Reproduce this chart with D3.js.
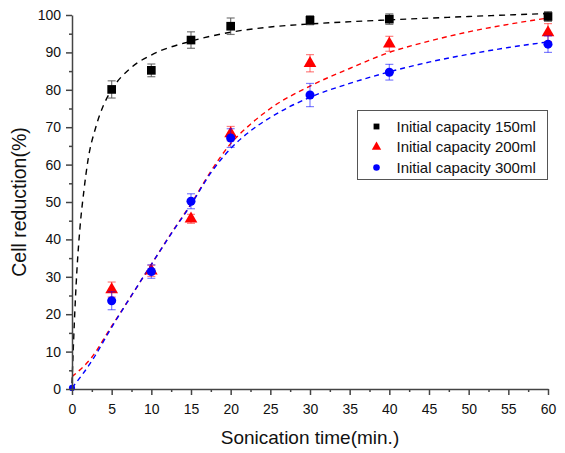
<!DOCTYPE html>
<html>
<head>
<meta charset="utf-8">
<script src="https://cdn.jsdelivr.net/npm/d3@7"></script>
<style>
  body { margin: 0; background: #fff; }
  svg text { font-family: Arial, "Liberation Sans", sans-serif; fill: #111; }
</style>
</head>
<body>
<svg id="chart"></svg>
<script>
// measured points (time in min, reduction in %, error)
const times = [5, 10, 15, 20, 30, 40, 60];
const cap150 = [80.1, 85.2, 93.3, 97.0, 98.6, 98.9, 99.6];
const err150 = [2.3, 1.7, 2.2, 2.2, 1.2, 1.4, 1.3];
const cap200 = [26.6, 31.6, 45.5, 68.3, 87.1, 92.3, 95.3];
const err200 = [2.0, 1.5, 1.2, 1.9, 2.3, 2.0, 2.4];
const times300 = [0, 5, 10, 15, 20, 30, 40, 60];
const cap300 = [0.3, 23.6, 31.4, 50.2, 67.1, 78.6, 84.7, 92.2];
const err300 = [0, 2.4, 1.8, 2.0, 2.5, 3.1, 2.1, 2.2];

// dashed fit curves
const fitX150 = [0, 0.3, 0.6, 1, 1.5, 2, 3, 4, 5, 7.5, 10, 15, 20, 25, 30, 40, 50, 60];
const fitY150 = [1.5, 18, 31, 43, 53, 61, 70, 76, 80, 86, 89.3, 93, 95.4, 96.8, 97.6, 98.7, 99.6, 100.4];
const fitX200 = [0, 2.5, 5, 7.5, 10, 12.5, 15, 17.5, 20, 22.5, 25, 30, 35, 40, 45, 50, 55, 60];
const fitY200 = [3.3, 8.5, 16.8, 25, 33.3, 41.6, 49.5, 58.2, 65.6, 70.8, 75, 81, 85.7, 90, 93, 95.5, 97.5, 99.2];
const fitX300 = [0, 2.5, 5, 7.5, 10, 12.5, 15, 17.5, 20, 22.5, 25, 30, 35, 40, 45, 50, 55, 60];
const fitY300 = [0.3, 7.5, 16.5, 25, 33.3, 41.5, 49.3, 57.8, 64.3, 69, 72.6, 78, 81.7, 84.8, 87.4, 89.5, 91.3, 92.8];

const xTicks = d3.range(0, 61, 5);
const yTicks = d3.range(0, 101, 10);
const legendLabels = ['Initial capacity 150ml', 'Initial capacity 200ml', 'Initial capacity 300ml'];
const colors = ['#000000', '#ff0000', '#0000ff'];

const width = 565, height = 453;
const margin = { top: 15, right: 17, bottom: 64, left: 72 };

const svg = d3.select('#chart').attr('width', width).attr('height', height);

const x = d3.scaleLinear().domain([0, 60]).range([margin.left, width - margin.right]);
const y = d3.scaleLinear().domain([0, 100]).range([height - margin.bottom, margin.top]);

// fit curves
const line = d3.line()
    .x(d => x(d[0]))
    .y(d => y(d[1]))
    .curve(d3.curveMonotoneX);

const fits = [
    { xs: fitX150, ys: fitY150, dash: '6,5' },
    { xs: fitX200, ys: fitY200, dash: '5,4' },
    { xs: fitX300, ys: fitY300, dash: '5,4' }
];
fits.forEach((f, i) => {
    svg.append('path')
        .datum(f.xs.map((v, j) => [v, f.ys[j]]))
        .attr('fill', 'none')
        .attr('stroke', colors[i])
        .attr('stroke-width', 1.4)
        .attr('stroke-dasharray', f.dash)
        .attr('d', line);
});

// error bars + markers
const series = [
    { xs: times, ys: cap150, es: err150 },
    { xs: times, ys: cap200, es: err200 },
    { xs: times300, ys: cap300, es: err300 }
];
const symbols = [d3.symbolSquare, d3.symbolTriangle, d3.symbolCircle];
const symSizes = [75, 70, 64];

series.forEach((s, i) => {
    const pts = s.xs.map((v, j) => ({ t: v, v: s.ys[j], e: s.es[j] }));
    const eb = svg.append('g')
        .attr('stroke', i === 0 ? '#555' : colors[i])
        .attr('stroke-opacity', i === 0 ? 0.8 : 0.5)
        .attr('stroke-width', 1.2);
    pts.filter(d => d.e > 0).forEach(d => {
        eb.append('line').attr('x1', x(d.t)).attr('x2', x(d.t)).attr('y1', y(d.v - d.e)).attr('y2', y(d.v + d.e));
        eb.append('line').attr('x1', x(d.t) - 4).attr('x2', x(d.t) + 4).attr('y1', y(d.v - d.e)).attr('y2', y(d.v - d.e));
        eb.append('line').attr('x1', x(d.t) - 4).attr('x2', x(d.t) + 4).attr('y1', y(d.v + d.e)).attr('y2', y(d.v + d.e));
    });
    svg.append('g')
        .selectAll('path')
        .data(pts)
        .join('path')
            .attr('transform', d => `translate(${x(d.t)}, ${y(d.v)})`)
            .attr('d', d3.symbol().type(symbols[i]).size(d => d.t === 0 ? 30 : symSizes[i]))
            .attr('fill', colors[i]);
});

// axes drawn over the marks, minor ticks first
svg.append('g')
    .attr('transform', `translate(0, ${y(0)})`)
    .call(d3.axisBottom(x).tickValues(d3.range(2.5, 60, 5)).tickSize(3).tickFormat(''))
    .call(g => g.select('.domain').remove());
svg.append('g')
    .attr('transform', `translate(${x(0)}, 0)`)
    .call(d3.axisLeft(y).tickValues(d3.range(5, 100, 10)).tickSize(3).tickFormat(''))
    .call(g => g.select('.domain').remove());

const xAxisG = svg.append('g')
    .attr('transform', `translate(0, ${y(0)})`)
    .call(d3.axisBottom(x).tickValues(xTicks).tickSize(6).tickSizeOuter(0).tickPadding(9));
const yAxisG = svg.append('g')
    .attr('transform', `translate(${x(0)}, 0)`)
    .call(d3.axisLeft(y).tickValues(yTicks).tickSize(6).tickSizeOuter(0).tickPadding(5));

svg.selectAll('.domain, .tick line').attr('stroke', '#444').attr('stroke-width', 1.5);
[xAxisG, yAxisG].forEach(g => g.selectAll('text').attr('font-size', 14).attr('fill', '#111'));

svg.append('text')
    .attr('x', x(30))
    .attr('y', 444)
    .attr('text-anchor', 'middle')
    .attr('font-size', 19)
    .text('Sonication time(min.)');

svg.append('text')
    .attr('transform', `translate(26, ${y(50)}) rotate(-90)`)
    .attr('text-anchor', 'middle')
    .attr('font-size', 19.5)
    .text('Cell reduction(%)');

// legend
const legend = svg.append('g').attr('transform', 'translate(357.5, 110.5)');
legend.append('rect')
    .attr('width', 190)
    .attr('height', 69)
    .attr('fill', '#fff')
    .attr('stroke', '#555')
    .attr('stroke-width', 1);
legendLabels.forEach((lab, i) => {
    const row = legend.append('g').attr('transform', `translate(0, ${16 + i * 20.5})`);
    row.append('path')
        .attr('transform', 'translate(19, 0)')
        .attr('d', d3.symbol().type(symbols[i]).size(i === 1 ? 38 : 34))
        .attr('fill', colors[i]);
    row.append('text')
        .attr('x', 39)
        .attr('y', 5)
        .attr('font-size', 15)
        .text(lab);
});
</script>
</body>
</html>
